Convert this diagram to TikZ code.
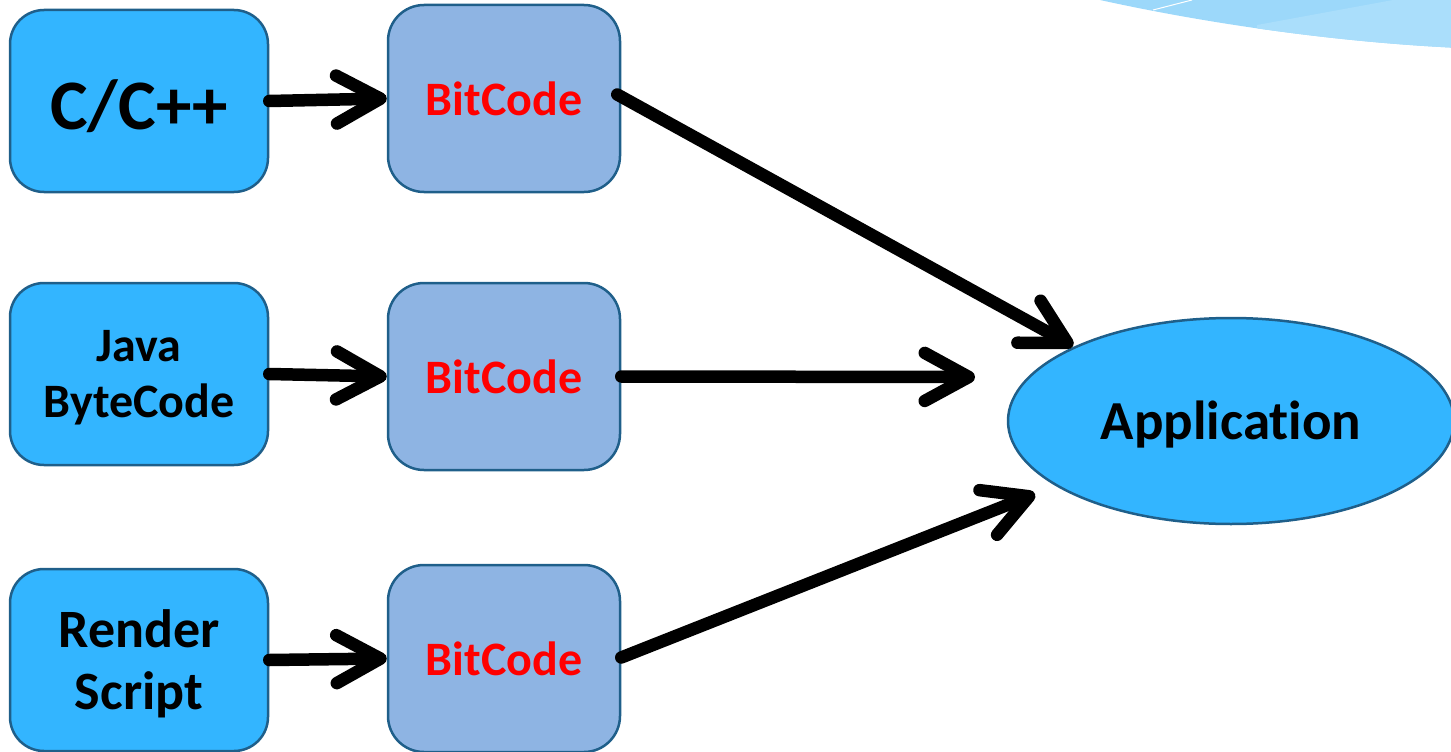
\documentclass[tikz,border=0pt]{standalone}
\usepackage{fontspec}
\setmainfont{Carlito}[Ligatures=NoCommon]
\usetikzlibrary{arrows.meta,shapes.geometric}
\definecolor{srcblue}{HTML}{33B5FF}
\definecolor{bcblue}{HTML}{8EB4E3}
\definecolor{edgeblue}{HTML}{1F5F8A}
\definecolor{swoosha}{HTML}{9CD8FA}
\definecolor{swooshb}{HTML}{AADEFB}
\tikzset{
  srcbox/.style={draw=edgeblue, line width=2.5pt, fill=srcblue, rounded corners=34pt,
    minimum width=258pt, minimum height=182pt, inner sep=0pt},
  srctext/.style={align=center, inner sep=0pt, yshift=-4pt,
    font=\bfseries\fontsize{48}{56}\selectfont},
  bcbox/.style={draw=edgeblue, line width=2.5pt, fill=bcblue, rounded corners=36pt,
    minimum width=232pt, minimum height=187pt, inner sep=0pt, text=red,
    font=\bfseries\fontsize{48}{56}\selectfont},
  appnode/.style={draw=edgeblue, line width=2.5pt, fill=srcblue, ellipse,
    minimum width=446pt, minimum height=206pt, inner sep=0pt},
  flow/.style={line width=12.5pt, line cap=round,
    -{Straight Barb[length=44pt,width=48pt,line cap=round,line join=round]}},
}
\begin{document}
\begin{tikzpicture}[x=1pt,y=-1pt]
  \useasboundingbox (0,0) rectangle (1451,752);
  % decorative swoosh in the upper right corner
  \begin{scope}
    \clip (0,0) rectangle (1451,752);
    \fill[swoosha] (1100,0) .. controls (1200,22) and (1330,42) .. (1460,48) -- (1460,-5) -- (1100,-5) -- cycle;
    \begin{scope}
      \clip (1100,0) .. controls (1200,22) and (1330,42) .. (1460,48) -- (1460,-5) -- (1100,-5) -- cycle;
      \fill[swooshb] (1257,25) -- (1393,0) -- (1460,0) -- (1460,60) -- (1257,60) -- cycle;
    \end{scope}
    \draw[white, line width=1pt] (1153,10) -- (1192,0);
  \end{scope}

  % source languages
  \node[srcbox, label={[name=cppt, srctext, yshift=-1pt, font=\bfseries\fontsize{71}{80}\selectfont]center:C/C++}] (cpp) at (139,101) {};
  \node[srcbox, label={[name=javat, srctext]center:Java\\ByteCode}] (java) at (139,374) {};
  \node[srcbox, label={[name=rst, srctext, font=\bfseries\fontsize{54}{62}\selectfont]center:Render\\Script}] (rs) at (139,660) {};

  % intermediate bitcode
  \node[bcbox] (bc1) at (504,98.5) {BitCode};
  \node[bcbox] (bc2) at (504,376.5) {BitCode};
  \node[bcbox] (bc3) at (504,658.5) {BitCode};

  % target
  \node[appnode, label={[name=appt, srctext, font=\bfseries\fontsize{55}{60}\selectfont]center:Application}] (app) at (1231,421) {};

  \coordinate (t1) at (1073,346);
  \coordinate (t2) at (975,377);
  \coordinate (t3) at (1035,494);

  \draw[flow] (cpp.east) -- (bc1.west);
  \draw[flow] (java.east) -- (bc2.west);
  \draw[flow] (rs.east) -- (bc3.west);

  \draw[flow] ([xshift=-4pt,yshift=4pt]bc1.east) -- (t1);
  \draw[flow] (bc2.east) -- (t2);
  \draw[flow] ([yshift=1pt]bc3.east) -- (t3);
\end{tikzpicture}
\end{document}
